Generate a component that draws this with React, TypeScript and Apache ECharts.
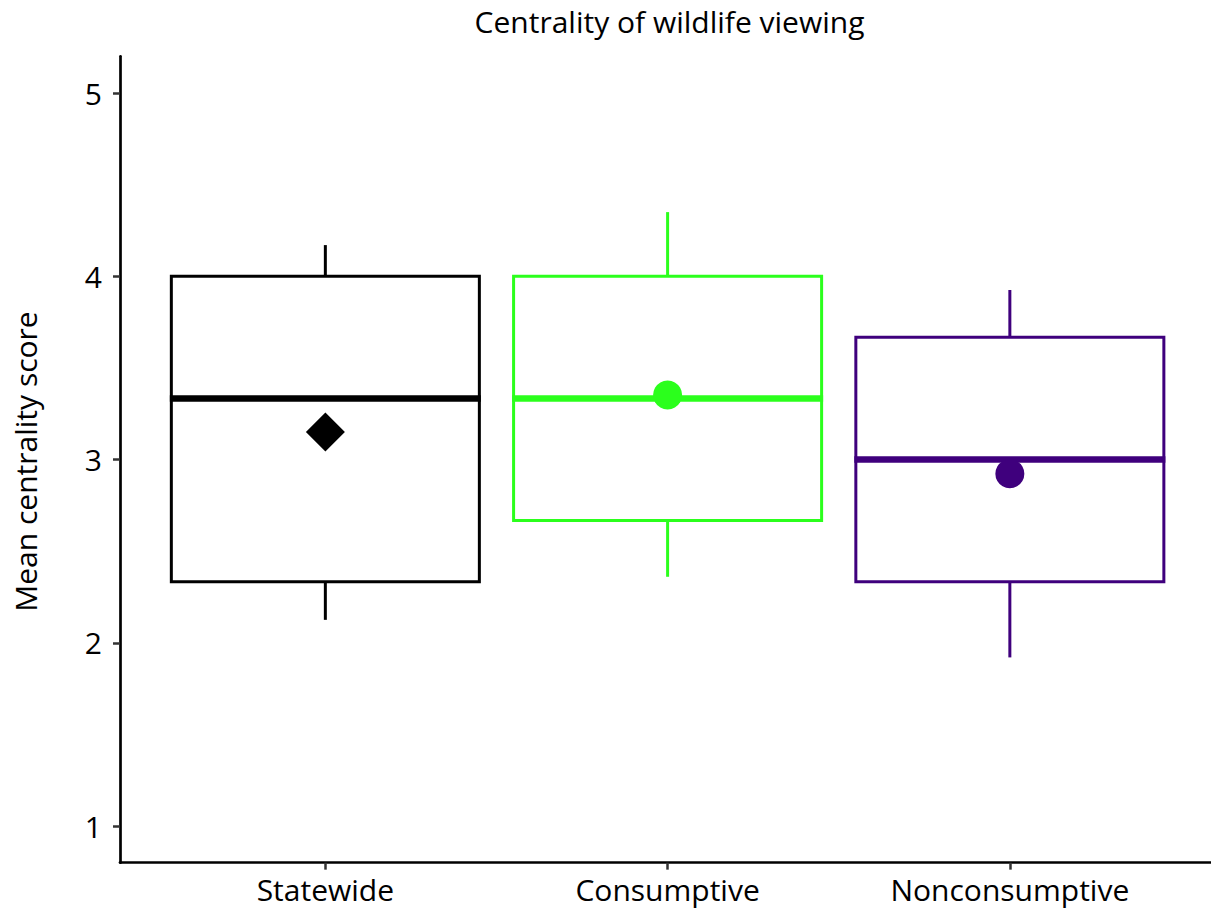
import React, { useEffect, useRef } from "react";
import * as echarts from "echarts";

// ---- data ----
const categories = ["Statewide", "Consumptive", "Nonconsumptive"];
const whiskerLow = [2.125, 2.36, 1.92];
const q1 = [2.333, 2.667, 2.333];
const median = [3.333, 3.333, 3.0];
const q3 = [4.0, 4.0, 3.667];
const whiskerHigh = [4.17, 4.35, 3.925];
const means = [3.15, 3.352, 2.922];
const yTicks = [1, 2, 3, 4, 5];
const xTicks = [1, 2, 3];

const titleText = "Centrality of wildlife viewing";
const yTitleText = "Mean centrality score";

// ---- styles ----
const COLORS = ["#000000", "#2BFF1C", "#3F007D"];
const MEAN_SHAPES = ["diamond", "circle", "circle"];
const FONT = "'Open Sans', 'DejaVu Sans', sans-serif";

export default function App() {
  const ref = useRef<HTMLDivElement | null>(null);

  useEffect(() => {
    if (!ref.current) return;
    const chart = echarts.init(ref.current, null, { renderer: "svg" });

    const data = categories.map((_, i) => [
      i + 1,
      whiskerLow[i],
      q1[i],
      median[i],
      q3[i],
      whiskerHigh[i],
      means[i],
    ]);

    const renderItem = (params: any, api: any) => {
      const i = params.dataIndex;
      const x = api.value(0);
      const cx = api.coord([x, api.value(3)])[0];
      const yLow = api.coord([x, api.value(1)])[1];
      const yQ1 = api.coord([x, api.value(2)])[1];
      const yMed = api.coord([x, api.value(3)])[1];
      const yQ3 = api.coord([x, api.value(4)])[1];
      const yHigh = api.coord([x, api.value(5)])[1];
      const yMean = api.coord([x, api.value(6)])[1];
      const w = api.size([0.9, 0])[0];
      const color = COLORS[i];
      const lw = 3;
      const children: any[] = [
        {
          type: "line",
          shape: { x1: cx, y1: yHigh, x2: cx, y2: yQ3 },
          style: { stroke: color, lineWidth: lw },
        },
        {
          type: "line",
          shape: { x1: cx, y1: yQ1, x2: cx, y2: yLow },
          style: { stroke: color, lineWidth: lw },
        },
        {
          type: "rect",
          shape: { x: cx - w / 2, y: yQ3, width: w, height: yQ1 - yQ3 },
          style: { fill: "none", stroke: color, lineWidth: lw, lineJoin: "miter" },
        },
        {
          type: "line",
          shape: { x1: cx - w / 2 - 1.5, y1: yMed, x2: cx + w / 2 + 1.5, y2: yMed },
          style: { stroke: color, lineWidth: 6.5 },
        },
      ];
      if (MEAN_SHAPES[i] === "diamond") {
        const r = 19.5;
        children.push({
          type: "polygon",
          shape: {
            points: [
              [cx, yMean - r],
              [cx + r, yMean],
              [cx, yMean + r],
              [cx - r, yMean],
            ],
          },
          style: { fill: color },
        });
      } else {
        children.push({
          type: "circle",
          shape: { cx: cx, cy: yMean, r: 14.5 },
          style: { fill: color },
        });
      }
      return { type: "group", children };
    };

    chart.setOption({
      animation: false,
      backgroundColor: "#ffffff",
      textStyle: { fontFamily: FONT },
      grid: {
        left: 120,
        top: 56.35,
        width: 1095.2,
        height: 806.3,
        outerBoundsMode: "none",
        containLabel: false,
      },
      xAxis: {
        type: "value",
        min: 0.4,
        max: 3.6,
        axisLine: { show: true, onZero: false, lineStyle: { color: "#000", width: 2.7 } },
        axisTick: {
          show: true,
          customValues: xTicks,
          length: 7,
          lineStyle: { color: "#333", width: 2.5 },
        },
        axisLabel: {
          customValues: xTicks,
          formatter: (v: number) => categories[Math.round(v) - 1] ?? "",
          fontSize: 30,
          fontFamily: FONT,
          color: "#000",
          margin: 12,
        },
        splitLine: { show: false },
      },
      yAxis: {
        type: "value",
        min: 0.8,
        max: 5.2,
        axisLine: { show: true, onZero: false, lineStyle: { color: "#000", width: 2.7 } },
        axisTick: {
          show: true,
          customValues: yTicks,
          length: 7,
          lineStyle: { color: "#333", width: 2.5 },
        },
        axisLabel: {
          customValues: yTicks,
          fontSize: 30,
          fontFamily: FONT,
          color: "#000",
          margin: 18,
        },
        splitLine: { show: false },
      },
      graphic: [
        {
          type: "text",
          x: 669.5,
          y: 21,
          style: {
            text: titleText,
            fontSize: 30,
            fontFamily: FONT,
            fill: "#000",
            textAlign: "center",
            textVerticalAlign: "middle",
          },
        },
        {
          type: "text",
          x: 25,
          y: 461.5,
          rotation: Math.PI / 2,
          style: {
            text: yTitleText,
            fontSize: 30,
            fontFamily: FONT,
            fill: "#000",
            textAlign: "center",
            textVerticalAlign: "middle",
          },
        },
      ],
      series: [
        {
          type: "custom",
          renderItem,
          data,
          encode: { x: 0, y: [1, 2, 3, 4, 5, 6] },
          clip: false,
        },
      ],
    });

    return () => {
      chart.dispose();
    };
  }, []);

  return (
    <div
      style={{
        position: "fixed",
        left: 0,
        top: 0,
        width: 1211,
        height: 909,
        overflow: "hidden",
        background: "#fff",
      }}
    >
      <div ref={ref} style={{ width: 1240, height: 909 }} />
    </div>
  );
}
